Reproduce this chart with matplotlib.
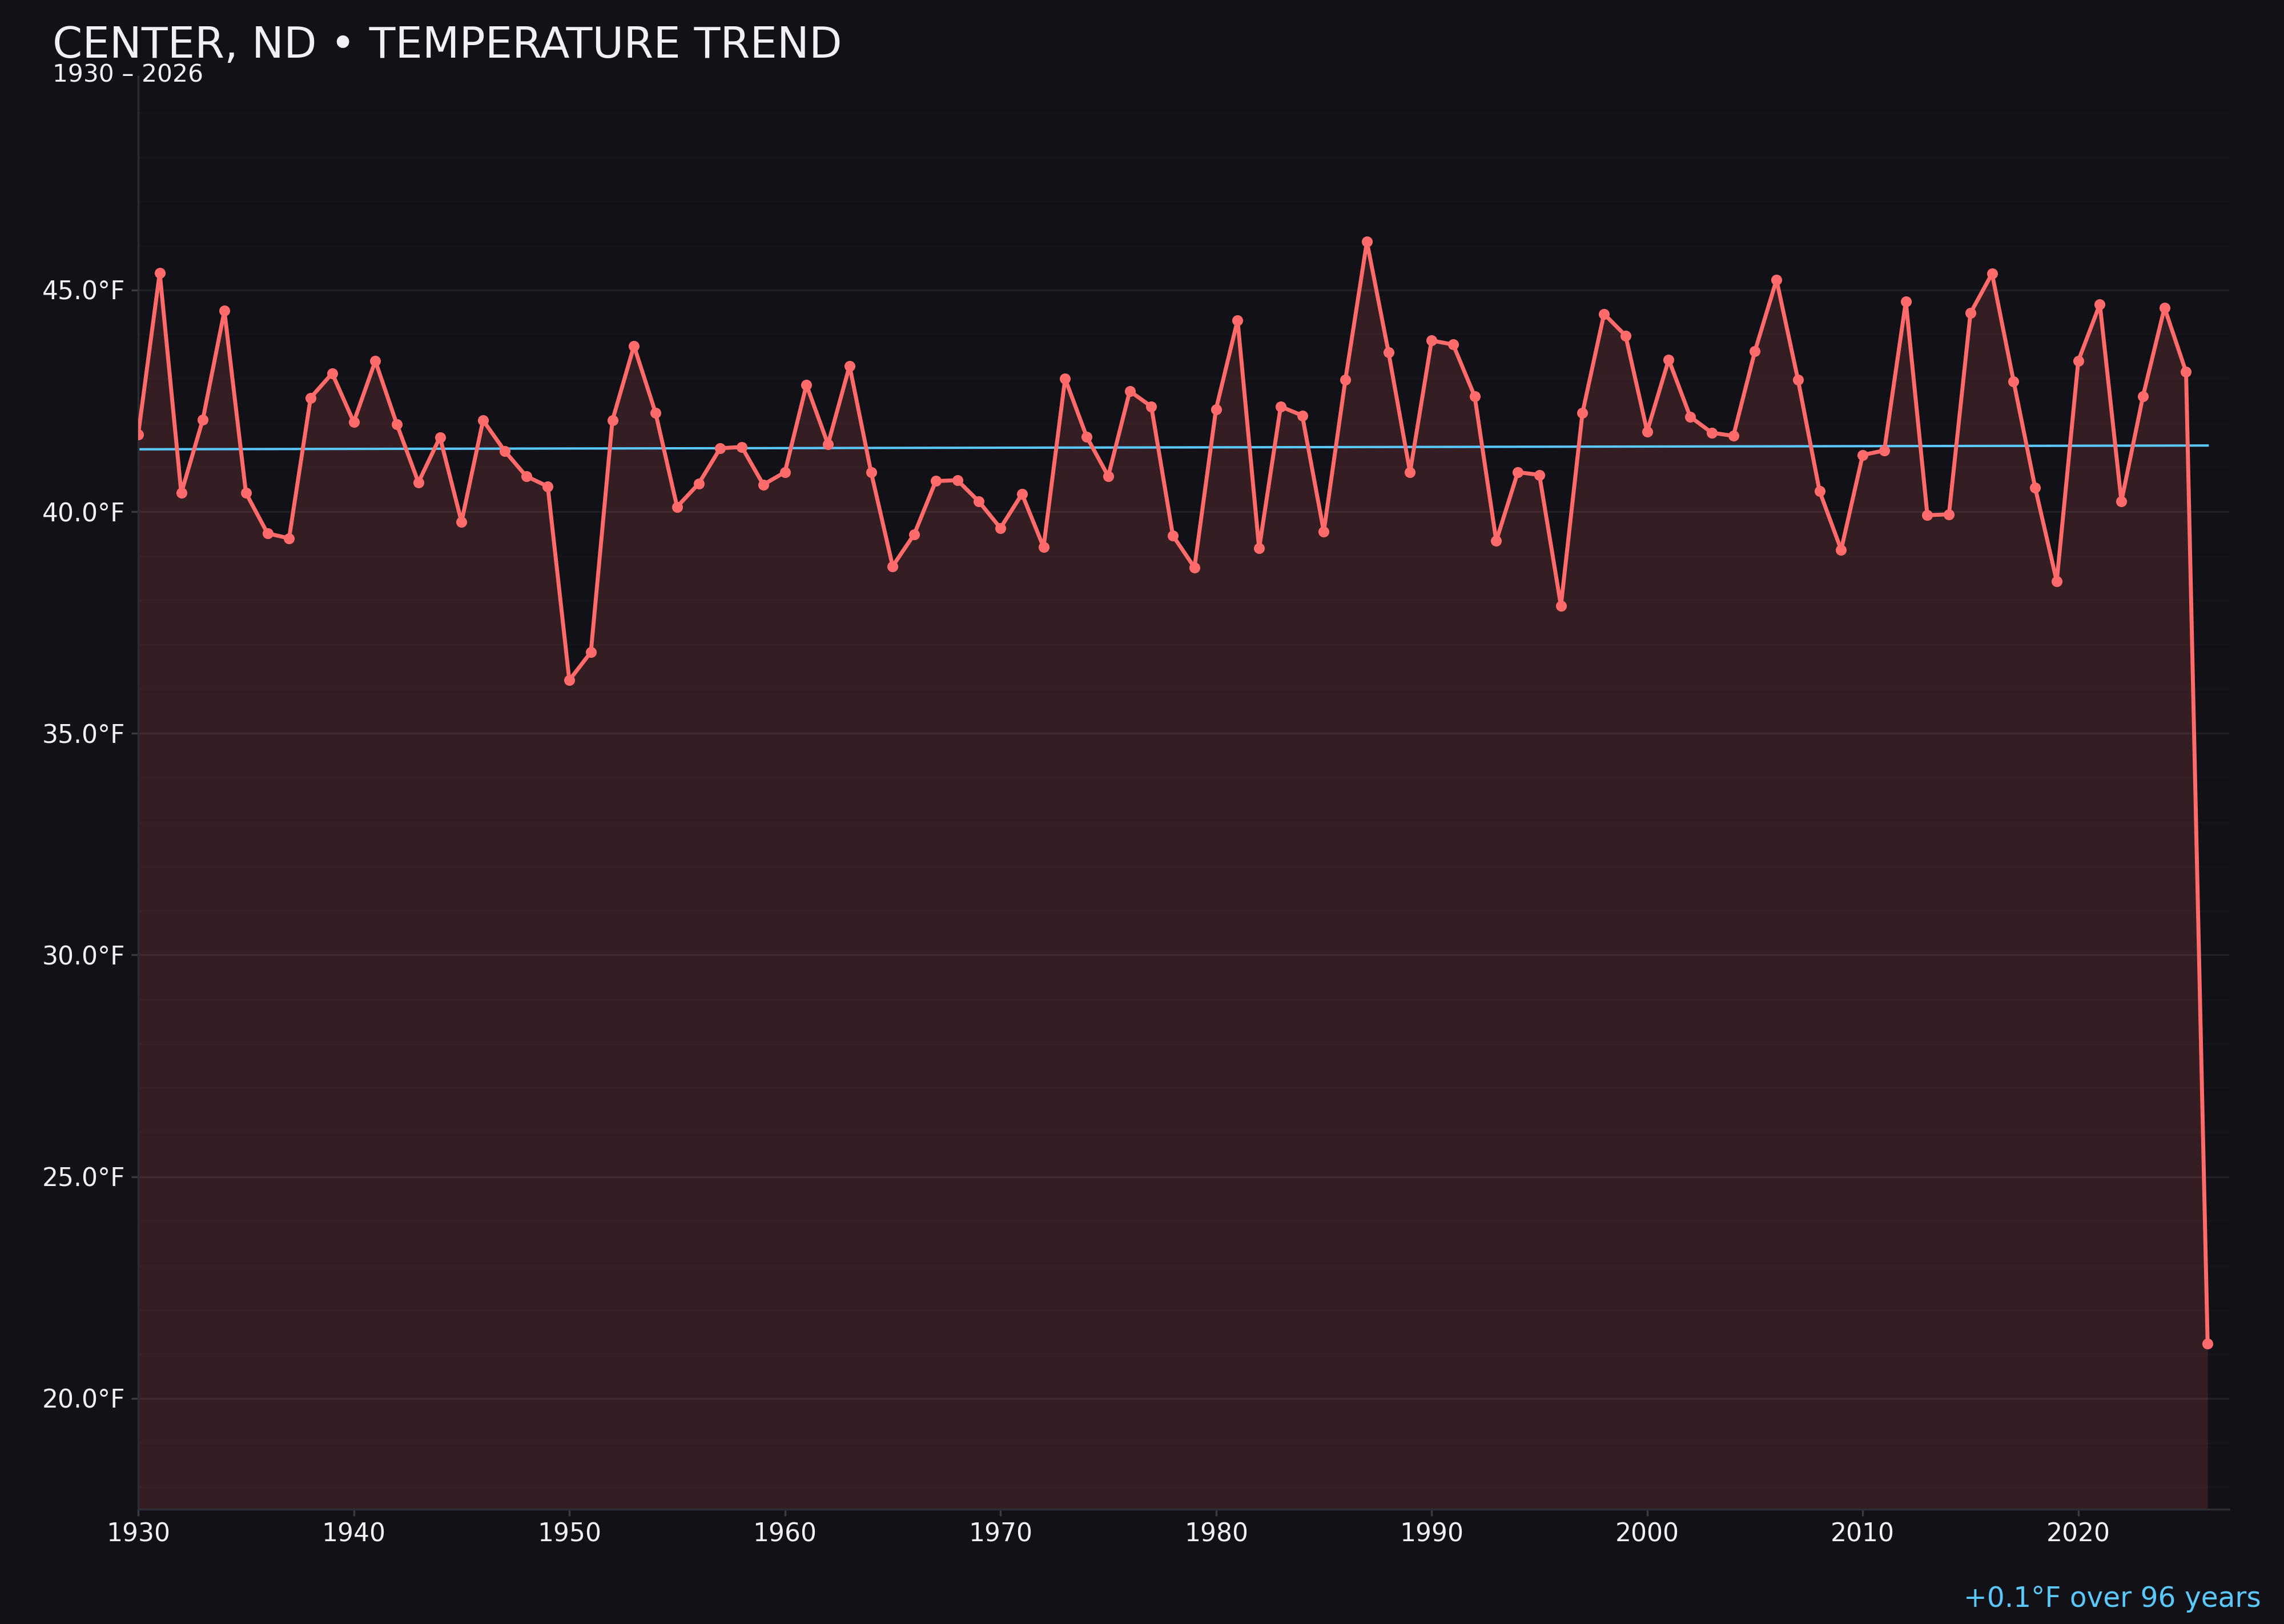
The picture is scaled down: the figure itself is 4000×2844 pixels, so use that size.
import numpy as np
import matplotlib
matplotlib.use("Agg")
import matplotlib.pyplot as plt
from matplotlib.ticker import MultipleLocator, FuncFormatter

# annual mean temperature, Center ND
years = list(range(1930, 2027))
temps = [
    41.74, 45.39, 40.42, 42.08, 44.53, 40.42, 39.51, 39.40, 42.57, 43.12,  # 1930s
    42.02, 43.40, 41.97, 40.66, 41.68, 39.77, 42.06, 41.37, 40.80, 40.57,  # 1940s
    36.20, 36.83, 42.06, 43.74, 42.23, 40.11, 40.63, 41.43, 41.46, 40.61,  # 1950s
    40.89, 42.86, 41.52, 43.29, 40.89, 38.77, 39.49, 40.69, 40.71, 40.23,  # 1960s
    39.63, 40.40, 39.20, 43.00, 41.69, 40.80, 42.72, 42.37, 39.46, 38.74,  # 1970s
    42.31, 44.32, 39.17, 42.37, 42.17, 39.55, 42.97, 46.09, 43.60, 40.89,  # 1980s
    43.86, 43.77, 42.60, 39.34, 40.89, 40.83, 37.88, 42.23, 44.46, 43.97,  # 1990s
    41.81, 43.43, 42.14, 41.78, 41.71, 43.62, 45.23, 42.97, 40.46, 39.14,  # 2000s
    41.28, 41.38, 44.74, 39.92, 39.94, 44.48, 45.37, 42.94, 40.54, 38.43,  # 2010s
    43.40, 44.68, 40.23, 42.60, 44.60, 43.15, 21.23,                       # 2020s
]
trend_label = "+0.1°F over 96 years"

bg = "#121117"
red = "#ff6b6b"
blue = "#5ac8fa"
txt = "#f0f0f5"

x = np.array(years)
y = np.array(temps)

# linear trend over every year
coef = np.polyfit(x, y, 1)
trend = np.polyval(coef, x)

fig = plt.figure(figsize=(16, 11.376), dpi=250, facecolor=bg)
ax = fig.add_axes([0.0605, 0.0707, 0.9155, 0.8823])
ax.set_facecolor(bg)

rng = y.max() - y.min()
lo = y.min() - 0.15 * rng
hi = y.max() + 0.15 * rng

ax.fill_between(x, y, lo, color=red, alpha=0.15, linewidth=0)
ax.plot(x, y, color=red, lw=2, marker="o", ms=4.5, zorder=3)
ax.plot(x, trend, color=blue, lw=1.2, zorder=2)

ax.set_xlim(1930, 2027)
ax.set_ylim(lo, hi)

ax.xaxis.set_major_locator(MultipleLocator(10))
ax.yaxis.set_major_locator(MultipleLocator(5))
ax.yaxis.set_minor_locator(MultipleLocator(1))
ax.yaxis.set_major_formatter(FuncFormatter(lambda v, p: f"{v:.1f}°F"))

ax.set_axisbelow(True)
ax.grid(axis="y", which="major", color="white", alpha=0.06, lw=1)
ax.grid(axis="y", which="minor", color="white", alpha=0.018, lw=0.8)

for s in ["top", "right"]:
    ax.spines[s].set_visible(False)
for s in ["left", "bottom"]:
    ax.spines[s].set_color("#2c2c35")
    ax.spines[s].set_linewidth(1)

ax.tick_params(axis="both", which="major", colors="#3a3a44", labelcolor=txt,
               labelsize=12.7, length=3.5, width=1, pad=3)
ax.tick_params(axis="y", which="minor", length=0)

fig.text(0.023, 0.9645, "CENTER, ND • TEMPERATURE TREND", color=txt,
         fontsize=21.6, va="baseline", ha="left")
fig.text(0.023, 0.9495, "1930 – 2026", color=txt, fontsize=12.2,
         va="baseline", ha="left")
fig.text(0.990, 0.0105, trend_label, color=blue, fontsize=14,
         va="baseline", ha="right")

fig.savefig("out.png", dpi=250, facecolor=bg)
